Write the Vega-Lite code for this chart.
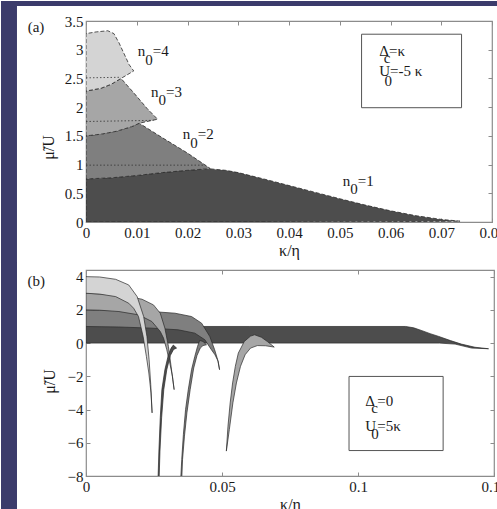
{
  "$schema": "https://vega.github.io/schema/vega-lite/v6.json",
  "padding": 0,
  "background": "white",
  "spacing": -3,
  "config": {
    "font": "Liberation Serif, DejaVu Serif, serif",
    "view": {"stroke": "#8c8c8c", "strokeWidth": 1.2},
    "axis": {"domain": false, "grid": false, "tickCount": 20, "labelOverlap": false, "labelFlush": false, "labelFont": "Liberation Serif, DejaVu Serif, serif", "labelFontSize": 15, "labelColor": "#1a1a1a", "titleFont": "Liberation Serif, DejaVu Serif, serif", "titleFontSize": 16, "titleFontWeight": "normal", "titleColor": "#1a1a1a", "tickColor": "#8c8c8c", "tickSize": -4, "labelPadding": 7},
    "axisX": {"titlePadding": 2},
    "text": {"font": "Liberation Serif, DejaVu Serif, serif", "fontSize": 15, "align": "left", "baseline": "alphabetic", "color": "#1a1a1a"}
  },
  "datasets": {
    "polyA": [
      {"lobe": "n1", "i": 0, "x": 0, "y": 0}, {"lobe": "n1", "i": 1, "x": 0, "y": 0.75}, {"lobe": "n1", "i": 2, "x": 0.005, "y": 0.77}, {"lobe": "n1", "i": 3, "x": 0.01, "y": 0.81}, {"lobe": "n1", "i": 4, "x": 0.015, "y": 0.86}, {"lobe": "n1", "i": 5, "x": 0.02, "y": 0.9}, {"lobe": "n1", "i": 6, "x": 0.0245, "y": 0.925}, {"lobe": "n1", "i": 7, "x": 0.0275, "y": 0.9}, {"lobe": "n1", "i": 8, "x": 0.03, "y": 0.86}, {"lobe": "n1", "i": 9, "x": 0.035, "y": 0.75}, {"lobe": "n1", "i": 10, "x": 0.04, "y": 0.635}, {"lobe": "n1", "i": 11, "x": 0.045, "y": 0.52}, {"lobe": "n1", "i": 12, "x": 0.05, "y": 0.405}, {"lobe": "n1", "i": 13, "x": 0.055, "y": 0.295}, {"lobe": "n1", "i": 14, "x": 0.06, "y": 0.195}, {"lobe": "n1", "i": 15, "x": 0.065, "y": 0.11}, {"lobe": "n1", "i": 16, "x": 0.07, "y": 0.045}, {"lobe": "n1", "i": 17, "x": 0.0737, "y": 0.015}, {"lobe": "n1", "i": 18, "x": 0.065, "y": 0.008}, {"lobe": "n1", "i": 19, "x": 0.05, "y": 0.003}, {"lobe": "n1", "i": 20, "x": 0, "y": 0},
      {"lobe": "n2", "i": 0, "x": 0, "y": 0.75}, {"lobe": "n2", "i": 1, "x": 0, "y": 1.5}, {"lobe": "n2", "i": 2, "x": 0.003, "y": 1.53}, {"lobe": "n2", "i": 3, "x": 0.006, "y": 1.58}, {"lobe": "n2", "i": 4, "x": 0.009, "y": 1.66}, {"lobe": "n2", "i": 5, "x": 0.0105, "y": 1.72}, {"lobe": "n2", "i": 6, "x": 0.015, "y": 1.47}, {"lobe": "n2", "i": 7, "x": 0.02, "y": 1.2}, {"lobe": "n2", "i": 8, "x": 0.0245, "y": 0.93}, {"lobe": "n2", "i": 9, "x": 0.02, "y": 0.9}, {"lobe": "n2", "i": 10, "x": 0.015, "y": 0.86}, {"lobe": "n2", "i": 11, "x": 0.01, "y": 0.81}, {"lobe": "n2", "i": 12, "x": 0.005, "y": 0.77}, {"lobe": "n2", "i": 13, "x": 0, "y": 0.75},
      {"lobe": "n3", "i": 0, "x": 0, "y": 1.5}, {"lobe": "n3", "i": 1, "x": 0, "y": 2.28}, {"lobe": "n3", "i": 2, "x": 0.003, "y": 2.33}, {"lobe": "n3", "i": 3, "x": 0.005, "y": 2.4}, {"lobe": "n3", "i": 4, "x": 0.0069, "y": 2.5}, {"lobe": "n3", "i": 5, "x": 0.0095, "y": 2.24}, {"lobe": "n3", "i": 6, "x": 0.012, "y": 1.98}, {"lobe": "n3", "i": 7, "x": 0.0141, "y": 1.79}, {"lobe": "n3", "i": 8, "x": 0.0105, "y": 1.72}, {"lobe": "n3", "i": 9, "x": 0.009, "y": 1.66}, {"lobe": "n3", "i": 10, "x": 0.006, "y": 1.58}, {"lobe": "n3", "i": 11, "x": 0.003, "y": 1.53}, {"lobe": "n3", "i": 12, "x": 0, "y": 1.5},
      {"lobe": "n4", "i": 0, "x": 0, "y": 2.28}, {"lobe": "n4", "i": 1, "x": 0, "y": 3.28}, {"lobe": "n4", "i": 2, "x": 0.002, "y": 3.31}, {"lobe": "n4", "i": 3, "x": 0.0043, "y": 3.33}, {"lobe": "n4", "i": 4, "x": 0.0055, "y": 3.28}, {"lobe": "n4", "i": 5, "x": 0.0065, "y": 3.12}, {"lobe": "n4", "i": 6, "x": 0.0075, "y": 2.93}, {"lobe": "n4", "i": 7, "x": 0.0085, "y": 2.74}, {"lobe": "n4", "i": 8, "x": 0.0094, "y": 2.63}, {"lobe": "n4", "i": 9, "x": 0.0069, "y": 2.5}, {"lobe": "n4", "i": 10, "x": 0.005, "y": 2.4}, {"lobe": "n4", "i": 11, "x": 0.003, "y": 2.33}, {"lobe": "n4", "i": 12, "x": 0, "y": 2.28}
    ],
    "dotA": [
      {"lobe": "n2", "x": 0, "y": 0.99}, {"lobe": "n2", "x": 0.0235, "y": 0.99},
      {"lobe": "n3", "x": 0, "y": 1.75}, {"lobe": "n3", "x": 0.0133, "y": 1.77},
      {"lobe": "n4", "x": 0, "y": 2.51}, {"lobe": "n4", "x": 0.0069, "y": 2.52}
    ],
    "textA": [
      {"x": -0.01149, "y": 3.308, "t": "(a)"},
      {"x": 0.01019, "y": 2.89, "t": "n"}, {"x": 0.01166, "y": 2.74, "t": "0"}, {"x": 0.01314, "y": 2.89, "t": "=4"},
      {"x": 0.01281, "y": 2.177, "t": "n"}, {"x": 0.01429, "y": 2.03, "t": "0"}, {"x": 0.01576, "y": 2.177, "t": "=3"},
      {"x": 0.01905, "y": 1.44, "t": "n"}, {"x": 0.02053, "y": 1.297, "t": "0"}, {"x": 0.02201, "y": 1.44, "t": "=2"},
      {"x": 0.05058, "y": 0.627, "t": "n"}, {"x": 0.05206, "y": 0.482, "t": "0"}, {"x": 0.05354, "y": 0.627, "t": "=1"},
      {"x": 0.05779, "y": 2.89, "t": "Δ"}, {"x": 0.05866, "y": 2.77, "t": "c"}, {"x": 0.0597, "y": 2.89, "t": "=κ"},
      {"x": 0.05779, "y": 2.542, "t": "U"}, {"x": 0.0588, "y": 2.37, "t": "0"}, {"x": 0.0599, "y": 2.542, "t": "=-5 κ"}
    ],
    "polyB": [
      {"lobe": "n1", "i": 0, "x": 0, "y": 0}, {"lobe": "n1", "i": 1, "x": 0, "y": 1}, {"lobe": "n1", "i": 2, "x": 0.06, "y": 1}, {"lobe": "n1", "i": 3, "x": 0.1175, "y": 1}, {"lobe": "n1", "i": 4, "x": 0.1205, "y": 0.92}, {"lobe": "n1", "i": 5, "x": 0.1235, "y": 0.75}, {"lobe": "n1", "i": 6, "x": 0.1265, "y": 0.57}, {"lobe": "n1", "i": 7, "x": 0.1297, "y": 0.4}, {"lobe": "n1", "i": 8, "x": 0.134, "y": 0.15}, {"lobe": "n1", "i": 9, "x": 0.138, "y": -0.06}, {"lobe": "n1", "i": 10, "x": 0.143, "y": -0.25}, {"lobe": "n1", "i": 11, "x": 0.148, "y": -0.34}, {"lobe": "n1", "i": 12, "x": 0.1418, "y": -0.3}, {"lobe": "n1", "i": 13, "x": 0.1357, "y": -0.06}, {"lobe": "n1", "i": 14, "x": 0.13, "y": 0}, {"lobe": "n1", "i": 15, "x": 0.06, "y": 0}, {"lobe": "n1", "i": 16, "x": 0, "y": 0},
      {"lobe": "n2", "i": 0, "x": 0, "y": 1}, {"lobe": "n2", "i": 1, "x": 0, "y": 2}, {"lobe": "n2", "i": 2, "x": 0.012, "y": 1.96}, {"lobe": "n2", "i": 3, "x": 0.0242, "y": 1.9}, {"lobe": "n2", "i": 4, "x": 0.0327, "y": 1.8}, {"lobe": "n2", "i": 5, "x": 0.0388, "y": 1.6}, {"lobe": "n2", "i": 6, "x": 0.0425, "y": 1.2}, {"lobe": "n2", "i": 7, "x": 0.0455, "y": 0.4}, {"lobe": "n2", "i": 8, "x": 0.0473, "y": -0.4}, {"lobe": "n2", "i": 9, "x": 0.0484, "y": -1.0}, {"lobe": "n2", "i": 10, "x": 0.0491, "y": -1.6}, {"lobe": "n2", "i": 11, "x": 0.0486, "y": -1.1}, {"lobe": "n2", "i": 12, "x": 0.0474, "y": -0.7}, {"lobe": "n2", "i": 13, "x": 0.0461, "y": -0.4}, {"lobe": "n2", "i": 14, "x": 0.0437, "y": 0.2}, {"lobe": "n2", "i": 15, "x": 0.04, "y": 0.6}, {"lobe": "n2", "i": 16, "x": 0.0339, "y": 0.8}, {"lobe": "n2", "i": 17, "x": 0.0242, "y": 0.9}, {"lobe": "n2", "i": 18, "x": 0.012, "y": 0.97}, {"lobe": "n2", "i": 19, "x": 0, "y": 1},
      {"lobe": "n3", "i": 0, "x": 0, "y": 2}, {"lobe": "n3", "i": 1, "x": 0, "y": 3}, {"lobe": "n3", "i": 2, "x": 0.008, "y": 2.94}, {"lobe": "n3", "i": 3, "x": 0.0157, "y": 2.8}, {"lobe": "n3", "i": 4, "x": 0.0206, "y": 2.64}, {"lobe": "n3", "i": 5, "x": 0.0248, "y": 2.3}, {"lobe": "n3", "i": 6, "x": 0.0273, "y": 1.8}, {"lobe": "n3", "i": 7, "x": 0.029, "y": 0.9}, {"lobe": "n3", "i": 8, "x": 0.0303, "y": -0.2}, {"lobe": "n3", "i": 9, "x": 0.0312, "y": -1.3}, {"lobe": "n3", "i": 10, "x": 0.0319, "y": -2.2}, {"lobe": "n3", "i": 11, "x": 0.0324, "y": -2.8}, {"lobe": "n3", "i": 12, "x": 0.0318, "y": -2.0}, {"lobe": "n3", "i": 13, "x": 0.0308, "y": -1.2}, {"lobe": "n3", "i": 14, "x": 0.0297, "y": -0.4}, {"lobe": "n3", "i": 15, "x": 0.0285, "y": 0.3}, {"lobe": "n3", "i": 16, "x": 0.0273, "y": 0.7}, {"lobe": "n3", "i": 17, "x": 0.0242, "y": 1.3}, {"lobe": "n3", "i": 18, "x": 0.0194, "y": 1.7}, {"lobe": "n3", "i": 19, "x": 0.0121, "y": 1.9}, {"lobe": "n3", "i": 20, "x": 0.005, "y": 1.98}, {"lobe": "n3", "i": 21, "x": 0, "y": 2},
      {"lobe": "n4", "i": 0, "x": 0, "y": 3}, {"lobe": "n4", "i": 1, "x": 0, "y": 4}, {"lobe": "n4", "i": 2, "x": 0.005, "y": 3.98}, {"lobe": "n4", "i": 3, "x": 0.0109, "y": 3.84}, {"lobe": "n4", "i": 4, "x": 0.0157, "y": 3.5}, {"lobe": "n4", "i": 5, "x": 0.0188, "y": 2.8}, {"lobe": "n4", "i": 6, "x": 0.0212, "y": 1.6}, {"lobe": "n4", "i": 7, "x": 0.0224, "y": 0.4}, {"lobe": "n4", "i": 8, "x": 0.0232, "y": -1.0}, {"lobe": "n4", "i": 9, "x": 0.0238, "y": -2.5}, {"lobe": "n4", "i": 10, "x": 0.0243, "y": -4.2}, {"lobe": "n4", "i": 11, "x": 0.0239, "y": -3.0}, {"lobe": "n4", "i": 12, "x": 0.0231, "y": -1.8}, {"lobe": "n4", "i": 13, "x": 0.0222, "y": -0.8}, {"lobe": "n4", "i": 14, "x": 0.021, "y": 0.4}, {"lobe": "n4", "i": 15, "x": 0.0193, "y": 1.6}, {"lobe": "n4", "i": 16, "x": 0.0175, "y": 2.1}, {"lobe": "n4", "i": 17, "x": 0.0157, "y": 2.4}, {"lobe": "n4", "i": 18, "x": 0.0109, "y": 2.8}, {"lobe": "n4", "i": 19, "x": 0.005, "y": 2.95}, {"lobe": "n4", "i": 20, "x": 0, "y": 3},
      {"lobe": "f1", "i": 0, "x": 0.0264, "y": -8.6}, {"lobe": "f1", "i": 1, "x": 0.0268, "y": -6.5}, {"lobe": "f1", "i": 2, "x": 0.0273, "y": -4.5}, {"lobe": "f1", "i": 3, "x": 0.0279, "y": -2.8}, {"lobe": "f1", "i": 4, "x": 0.029, "y": -1.6}, {"lobe": "f1", "i": 5, "x": 0.0303, "y": -0.7}, {"lobe": "f1", "i": 6, "x": 0.0313, "y": -0.3}, {"lobe": "f1", "i": 7, "x": 0.0321, "y": -0.12}, {"lobe": "f1", "i": 8, "x": 0.0333, "y": -0.3}, {"lobe": "f1", "i": 9, "x": 0.0322, "y": -0.38}, {"lobe": "f1", "i": 10, "x": 0.031, "y": -0.75}, {"lobe": "f1", "i": 11, "x": 0.0297, "y": -1.6}, {"lobe": "f1", "i": 12, "x": 0.0286, "y": -2.8}, {"lobe": "f1", "i": 13, "x": 0.0278, "y": -4.5}, {"lobe": "f1", "i": 14, "x": 0.0272, "y": -6.5}, {"lobe": "f1", "i": 15, "x": 0.0268, "y": -8.6},
      {"lobe": "f2", "i": 0, "x": 0.0347, "y": -8.6}, {"lobe": "f2", "i": 1, "x": 0.0352, "y": -7}, {"lobe": "f2", "i": 2, "x": 0.0358, "y": -5.5}, {"lobe": "f2", "i": 3, "x": 0.0366, "y": -4}, {"lobe": "f2", "i": 4, "x": 0.0376, "y": -2.8}, {"lobe": "f2", "i": 5, "x": 0.0388, "y": -1.6}, {"lobe": "f2", "i": 6, "x": 0.04, "y": -0.8}, {"lobe": "f2", "i": 7, "x": 0.041, "y": -0.2}, {"lobe": "f2", "i": 8, "x": 0.0418, "y": 0.16}, {"lobe": "f2", "i": 9, "x": 0.043, "y": 0.1}, {"lobe": "f2", "i": 10, "x": 0.0443, "y": -0.1}, {"lobe": "f2", "i": 11, "x": 0.043, "y": -0.15}, {"lobe": "f2", "i": 12, "x": 0.042, "y": -0.3}, {"lobe": "f2", "i": 13, "x": 0.0408, "y": -0.75}, {"lobe": "f2", "i": 14, "x": 0.0396, "y": -1.5}, {"lobe": "f2", "i": 15, "x": 0.0383, "y": -2.8}, {"lobe": "f2", "i": 16, "x": 0.0371, "y": -4.2}, {"lobe": "f2", "i": 17, "x": 0.0362, "y": -5.6}, {"lobe": "f2", "i": 18, "x": 0.0355, "y": -7}, {"lobe": "f2", "i": 19, "x": 0.0351, "y": -8.6},
      {"lobe": "f3", "i": 0, "x": 0.0516, "y": -6.5}, {"lobe": "f3", "i": 1, "x": 0.0522, "y": -5.0}, {"lobe": "f3", "i": 2, "x": 0.053, "y": -3.6}, {"lobe": "f3", "i": 3, "x": 0.0539, "y": -2.4}, {"lobe": "f3", "i": 4, "x": 0.0549, "y": -1.4}, {"lobe": "f3", "i": 5, "x": 0.056, "y": -0.6}, {"lobe": "f3", "i": 6, "x": 0.0582, "y": 0.1}, {"lobe": "f3", "i": 7, "x": 0.0605, "y": 0.42}, {"lobe": "f3", "i": 8, "x": 0.062, "y": 0.5}, {"lobe": "f3", "i": 9, "x": 0.0645, "y": 0.35}, {"lobe": "f3", "i": 10, "x": 0.0668, "y": 0.08}, {"lobe": "f3", "i": 11, "x": 0.0692, "y": -0.24}, {"lobe": "f3", "i": 12, "x": 0.066, "y": -0.16}, {"lobe": "f3", "i": 13, "x": 0.063, "y": -0.15}, {"lobe": "f3", "i": 14, "x": 0.0605, "y": -0.3}, {"lobe": "f3", "i": 15, "x": 0.0585, "y": -0.7}, {"lobe": "f3", "i": 16, "x": 0.0568, "y": -1.4}, {"lobe": "f3", "i": 17, "x": 0.0553, "y": -2.4}, {"lobe": "f3", "i": 18, "x": 0.054, "y": -3.6}, {"lobe": "f3", "i": 19, "x": 0.0527, "y": -5.2}, {"lobe": "f3", "i": 20, "x": 0.0516, "y": -6.5}
    ],
    "textB": [
      {"x": -0.02147, "y": 3.44, "t": "(b)"},
      {"x": 0.1027, "y": -3.766, "t": "Δ"}, {"x": 0.1049, "y": -4.186, "t": "c"}, {"x": 0.1071, "y": -3.766, "t": "=0"},
      {"x": 0.1027, "y": -5.309, "t": "U"}, {"x": 0.1049, "y": -5.766, "t": "0"}, {"x": 0.1071, "y": -5.309, "t": "=5κ"}
    ]
  },
  "vconcat": [
    {
      "width": 406,
      "height": 201,
      "layer": [
        {
          "layer": [
            {
              "data": {"values": [{}]},
              "mark": {"type": "rect", "fill": "#3b3b6b", "clip": false},
              "encoding": {
                "x": {"datum": -0.01675, "type": "quantitative", "scale": {"domain": [0, 0.08]}},
                "x2": {"datum": -0.0136},
                "y": {"datum": -0.714, "type": "quantitative", "scale": {"domain": [0, 3.5]}},
                "y2": {"datum": 3.848}
              }
            },
            {
              "data": {"values": [{}]},
              "mark": {"type": "rect", "fill": "#3b3b6b", "clip": false},
              "encoding": {
                "x": {"datum": -0.01675, "type": "quantitative", "scale": {"domain": [0, 0.08]}},
                "x2": {"datum": 0.0859},
                "y": {"datum": 3.761, "type": "quantitative", "scale": {"domain": [0, 3.5]}},
                "y2": {"datum": 3.848}
              }
            },
            {
              "data": {"name": "polyA"},
              "mark": {"type": "line", "stroke": "#2a2a2a", "strokeWidth": 0.8, "strokeDash": [4, 2], "clip": true},
              "encoding": {
                "x": {"field": "x", "type": "quantitative", "scale": {"domain": [0, 0.08]}, "axis": {"values": [0, 0.01, 0.02, 0.03, 0.04, 0.05, 0.06, 0.07, 0.08], "tickCount": 20, "format": "~g", "title": "κ/η", "labelOverlap": false, "labelFlush": false}},
                "y": {"field": "y", "type": "quantitative", "scale": {"domain": [0, 3.5]}, "axis": {"values": [0, 0.5, 1, 1.5, 2, 2.5, 3, 3.5], "tickCount": 20, "format": "~g", "title": "μ̃/U", "titleX": -30, "titleY": 126, "labelOverlap": false}},
                "fill": {"field": "lobe", "type": "nominal", "scale": {"domain": ["n1", "n2", "n3", "n4"], "range": ["#4d4d4d", "#7f7f7f", "#a6a6a6", "#d4d4d4"]}, "legend": null},
                "detail": {"field": "lobe"},
                "order": {"field": "i", "type": "quantitative"}
              }
            },
            {
              "data": {"name": "dotA"},
              "mark": {"type": "line", "stroke": "#333333", "strokeWidth": 0.8, "strokeDash": [1.5, 2]},
              "encoding": {
                "x": {"field": "x", "type": "quantitative", "scale": {"domain": [0, 0.08]}},
                "y": {"field": "y", "type": "quantitative", "scale": {"domain": [0, 3.5]}},
                "detail": {"field": "lobe"}
              }
            },
            {
              "data": {"values": [{}]},
              "mark": {"type": "rect", "fill": "white", "stroke": "#555555", "strokeWidth": 1},
              "encoding": {
                "x": {"datum": 0.0543, "type": "quantitative", "scale": {"domain": [0, 0.08]}},
                "x2": {"datum": 0.074},
                "y": {"datum": 1.99, "type": "quantitative", "scale": {"domain": [0, 3.5]}},
                "y2": {"datum": 3.27}
              }
            },
            {
              "data": {"name": "textA"},
              "mark": {"type": "text"},
              "encoding": {
                "x": {"field": "x", "type": "quantitative", "scale": {"domain": [0, 0.08]}},
                "y": {"field": "y", "type": "quantitative", "scale": {"domain": [0, 3.5]}},
                "text": {"field": "t"}
              }
            }
          ]
        },
        {
          "data": {"name": "dotA"},
          "mark": {"type": "point", "opacity": 0},
          "encoding": {
            "x": {"field": "x", "type": "quantitative", "scale": {"domain": [0, 0.08]}, "axis": {"orient": "top", "values": [0, 0.01, 0.02, 0.03, 0.04, 0.05, 0.06, 0.07, 0.08], "tickCount": 20, "labels": false, "title": null}},
            "y": {"field": "y", "type": "quantitative", "scale": {"domain": [0, 3.5]}, "axis": {"orient": "right", "values": [0, 0.5, 1, 1.5, 2, 2.5, 3, 3.5], "tickCount": 20, "labels": false, "title": null}}
          }
        }
      ],
      "resolve": {"axis": {"x": "independent", "y": "independent"}}
    },
    {
      "width": 408,
      "height": 206,
      "layer": [
        {
          "layer": [
            {
              "data": {"values": [{}]},
              "mark": {"type": "rect", "fill": "#3b3b6b", "clip": false},
              "encoding": {
                "x": {"datum": -0.03125, "type": "quantitative", "scale": {"domain": [0, 0.15]}},
                "x2": {"datum": -0.02537},
                "y": {"datum": -10.41, "type": "quantitative", "scale": {"domain": [-8, 4.4]}},
                "y2": {"datum": 4.88}
              }
            },
            {
              "data": {"name": "polyB"},
              "mark": {"type": "line", "stroke": "#2a2a2a", "strokeWidth": 0.7, "clip": true},
              "encoding": {
                "x": {"field": "x", "type": "quantitative", "scale": {"domain": [0, 0.15]}, "axis": {"values": [0, 0.05, 0.1, 0.15], "tickCount": 20, "format": "~g", "title": "κ/η", "labelOverlap": false, "labelFlush": false}},
                "y": {"field": "y", "type": "quantitative", "scale": {"domain": [-8, 4.4]}, "axis": {"values": [-8, -6, -4, -2, 0, 2, 4], "tickCount": 20, "format": "~g", "title": "μ̃/U", "titleX": -29, "titleY": 111, "labelOverlap": false}},
                "fill": {"field": "lobe", "type": "nominal", "scale": {"domain": ["n1", "n2", "n3", "n4", "f1", "f2", "f3"], "range": ["#4f4f4f", "#7d7d7d", "#a3a3a3", "#d2d2d2", "#bdbdbd", "#b0b0b0", "#8c8c8c"]}, "legend": null},
                "detail": {"field": "lobe"},
                "order": {"field": "i", "type": "quantitative"}
              }
            },
            {
              "data": {"values": [{}]},
              "mark": {"type": "rect", "fill": "white", "stroke": "#555555", "strokeWidth": 1},
              "encoding": {
                "x": {"datum": 0.0967, "type": "quantitative", "scale": {"domain": [0, 0.15]}},
                "x2": {"datum": 0.1313},
                "y": {"datum": -6.468, "type": "quantitative", "scale": {"domain": [-8, 4.4]}},
                "y2": {"datum": -2.006}
              }
            },
            {
              "data": {"name": "textB"},
              "mark": {"type": "text"},
              "encoding": {
                "x": {"field": "x", "type": "quantitative", "scale": {"domain": [0, 0.15]}},
                "y": {"field": "y", "type": "quantitative", "scale": {"domain": [-8, 4.4]}},
                "text": {"field": "t"}
              }
            }
          ]
        },
        {
          "data": {"name": "textB"},
          "mark": {"type": "point", "opacity": 0},
          "encoding": {
            "x": {"field": "x", "type": "quantitative", "scale": {"domain": [0, 0.15]}, "axis": {"orient": "top", "values": [0, 0.05, 0.1, 0.15], "tickCount": 20, "labels": false, "title": null}},
            "y": {"field": "y", "type": "quantitative", "scale": {"domain": [-8, 4.4]}, "axis": {"orient": "right", "values": [-8, -6, -4, -2, 0, 2, 4], "tickCount": 20, "labels": false, "title": null}}
          }
        }
      ],
      "resolve": {"axis": {"x": "independent", "y": "independent"}}
    }
  ]
}
